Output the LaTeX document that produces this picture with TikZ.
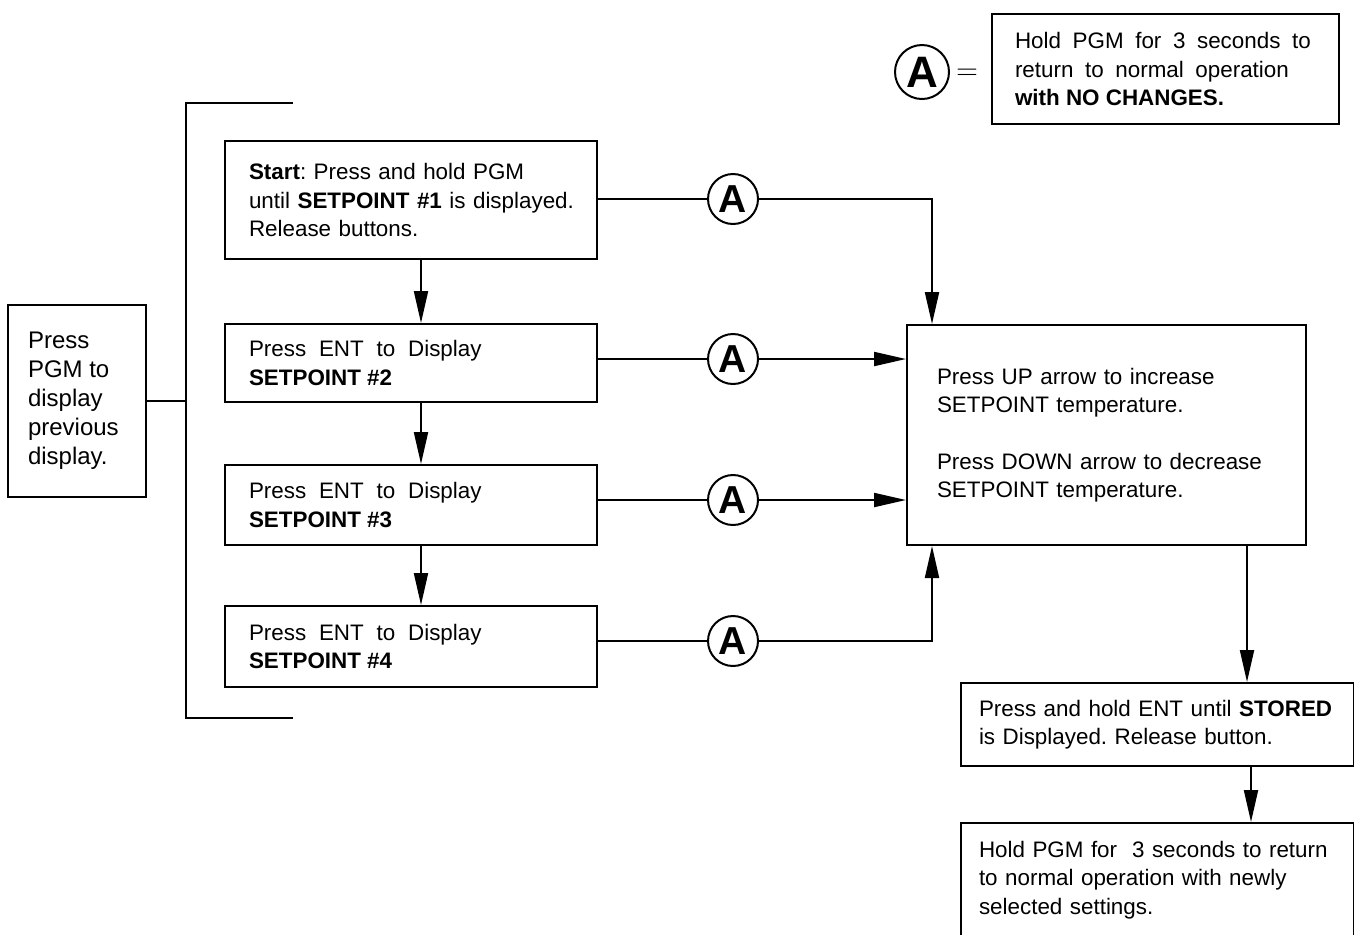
\documentclass[tikz,border=0pt]{standalone}
\usepackage{fontspec}
\setmainfont{Liberation Sans}
\usetikzlibrary{arrows.meta}
\frenchspacing
\newcommand{\boxfont}{\fontsize{11.2pt}{14.2pt}\selectfont\hyphenpenalty=10000 \spaceskip=.3333em\relax}
\newcommand{\widefont}{\boxfont\spaceskip=6.4pt\relax}
\newcommand{\legendfont}{\boxfont\spaceskip=5.8pt\relax}
\newcommand{\key}[1]{{\spaceskip=0pt\relax\textbf{#1}}}
\newcommand{\stopA}{\fontsize{19.5pt}{20pt}\selectfont\bfseries A}

\begin{document}
\begin{tikzpicture}[x=0.5pt,y=-0.5pt,line width=1pt,
    stepbox/.style={draw, align=flush left, inner xsep=0pt, inner ysep=0pt, font=\boxfont},
    nochange/.style={draw, circle, inner sep=0pt, minimum size=25pt, fill=white},
    flow/.style={-{Triangle[length=16pt,width=7pt]}}]
      \clip (0,0) rectangle (1354,934);
      % setpoint chain
      \node[stepbox, minimum width=186pt, minimum height=59pt, text width=162pt] (start) at (411,200)
        {\textbf{Start}: Press and hold PGM\\\mbox{until \textbf{SETPOINT \#1} is displayed.}\\Release buttons.};
      \node[stepbox, font=\widefont, minimum width=186pt, minimum height=39pt, text width=162pt] (sp2) at (411,363)
        {Press ENT to Display\\\key{SETPOINT \#2}};
      \node[stepbox, font=\widefont, minimum width=186pt, minimum height=40pt, text width=162pt] (sp3) at (411,505)
        {Press ENT to Display\\\key{SETPOINT \#3}};
      \node[stepbox, font=\widefont, minimum width=186pt, minimum height=40.5pt, text width=162pt] (sp4) at (411,646.5)
        {Press ENT to Display\\\key{SETPOINT \#4}};
      % back
      \node[stepbox, font=\fontsize{12pt}{14.5pt}\selectfont, minimum width=69pt, minimum height=96pt, text width=49pt] (back) at (77,401)
        {Press\\PGM to\\display\\previous\\display.};
      \coordinate (brtop) at (186,103);
      \coordinate (brbot) at (186,718);
      \draw (293,103) -- (brtop) -- (brbot) -- (293,718);
      \draw (back.east) -- (back.east -| brtop);
      % adjust and store
      \node[stepbox, minimum width=199.5pt, minimum height=110pt, text width=169.5pt] (adjust) at (1106.5,435)
        {Press UP arrow to increase\\SETPOINT temperature.\\[14.2pt]Press DOWN arrow to decrease\\SETPOINT temperature.};
      \node[stepbox, minimum width=196.5pt, minimum height=41.5pt, text width=178.5pt] (stored) at (1157.5,724.5)
        {Press and hold ENT until \textbf{STORED}\\is Displayed. Release button.};
      \node[stepbox, minimum width=196.5pt, minimum height=57pt, text width=178.5pt] (done) at (1157.5,880)
        {Hold PGM for\ \ 3 seconds to return\\to normal operation with newly\\selected settings.};
      % legend
      \node[stepbox, font=\legendfont, minimum width=173.5pt, minimum height=55pt, text width=150.5pt] (legend) at (1165.5,69)
        {Hold PGM for 3 seconds to\\return to normal operation\\\key{with NO CHANGES.}};
      \node[nochange, minimum size=27pt, font=\fontsize{22pt}{22pt}\selectfont\bfseries] (akey) at (922,72) {A};
      \node[font=\fontsize{15pt}{15pt}\selectfont] (equals) at (967,74) {$=$};
      % stop points
      \node[nochange] (a1) at (733,199) {\stopA};
      \node[nochange] (a2) at (733,359) {\stopA};
      \node[nochange] (a3) at (733,500) {\stopA};
      \node[nochange] (a4) at (733,641) {\stopA};
      \coordinate (intop) at ([xshift=13pt]adjust.north west);
      \coordinate (inbot) at ([xshift=13pt]adjust.south west);
      \draw (a1 -| start.east) -- (a1);
      \draw[flow] (a1) -| (intop);
      \draw (a2 -| sp2.east) -- (a2);
      \draw[flow] (a2) -- (a2 -| adjust.west);
      \draw (a3 -| sp3.east) -- (a3);
      \draw[flow] (a3) -- (a3 -| adjust.west);
      \draw (a4 -| sp4.east) -- (a4);
      \draw[flow] (a4) -| (inbot);
      % downward arrows
      \draw[flow] (421,0 |- start.south) -- (421,0 |- sp2.north);
      \draw[flow] (421,0 |- sp2.south) -- (421,0 |- sp3.north);
      \draw[flow] (421,0 |- sp3.south) -- (421,0 |- sp4.north);
      \draw[flow] (1247,0 |- adjust.south) -- (1247,0 |- stored.north);
      \draw[flow] (1251,0 |- stored.south) -- (1251,0 |- done.north);
    \end{tikzpicture}
\end{document}
